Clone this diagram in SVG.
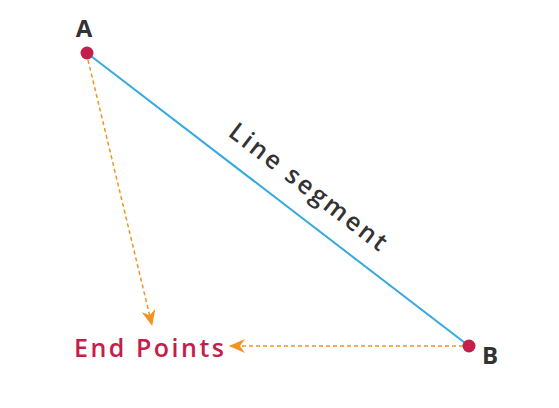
<svg xmlns="http://www.w3.org/2000/svg" width="559" height="408" viewBox="0 0 559 408">
<style>
.lbl{font-family:"Open Sans","Noto Sans",sans-serif;font-weight:bold;fill:#333;font-size:24px}
.ep{font-family:"Open Sans","Noto Sans",sans-serif;font-weight:600;fill:#c41e4a;font-size:25px}
.seg{font-family:"Open Sans","Noto Sans",sans-serif;font-weight:600;fill:#333;font-size:25px}
.dash{stroke:#f39323;stroke-width:1.5;stroke-dasharray:4 3;fill:none}
.pt{fill:#c41e4a}
</style>
<defs>
<marker id="ah" viewBox="0 0 16 14" refX="15" refY="7" markerWidth="16" markerHeight="14" markerUnits="userSpaceOnUse" orient="auto">
<path d="M0,0 L16,7 L0,14 L5,7 Z" fill="#f39323"/>
</marker>
</defs>
<g id="connectors">
<line x1="87" y1="53" x2="469" y2="346" stroke="#36a9e1" stroke-width="2"/>
<line class="dash" x1="88" y1="60" x2="152" y2="325" marker-end="url(#ah)"/>
<line class="dash" x1="463" y1="346" x2="230" y2="346" marker-end="url(#ah)"/>
</g>
<g id="pointA">
<circle class="pt" cx="87" cy="53" r="6.5"/>
<text class="lbl" x="84" y="37" text-anchor="middle">A</text>
</g>
<g id="pointB">
<circle class="pt" cx="469" cy="346" r="6.5"/>
<text class="lbl" x="490" y="364" text-anchor="middle">B</text>
</g>
<g id="segLabel">
<text class="seg" x="227" y="135" textLength="192" lengthAdjust="spacing" transform="rotate(37.6 227 135)">Line segment</text>
</g>
<g id="endPoints">
<text class="ep" x="74" y="357" textLength="150" lengthAdjust="spacing">End Points</text>
</g>
</svg>
